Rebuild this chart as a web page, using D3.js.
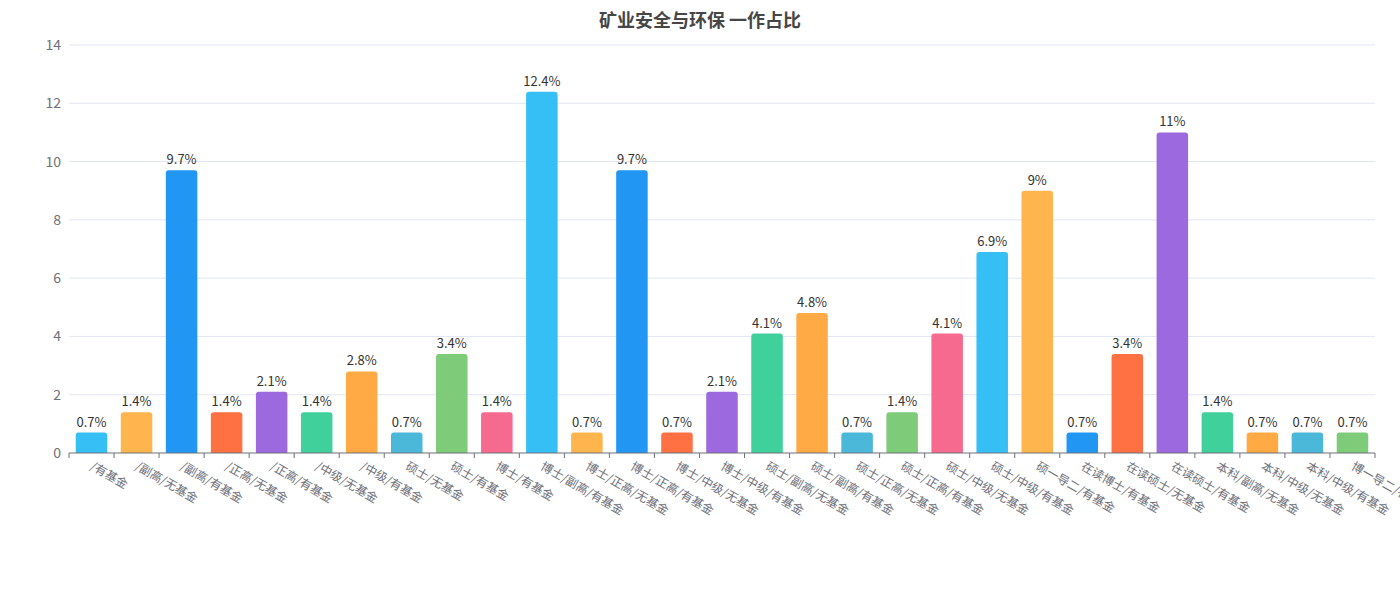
<!DOCTYPE html>
<html>
<head>
<meta charset="utf-8">
<script src="https://cdn.jsdelivr.net/npm/d3@7"></script>
<style>
  body { margin: 0; background: #fff; }
  svg text { font-family: "Noto Sans CJK SC", "Noto Sans", sans-serif; }
</style>
</head>
<body>
<div id="chart"></div>
<script>
// categories along the x axis
const categories = [
  '/有基金', '/副高/无基金', '/副高/有基金', '/正高/无基金', '/正高/有基金',
  '/中级/无基金', '/中级/有基金', '硕士/无基金', '硕士/有基金', '博士/有基金',
  '博士/副高/有基金', '博士/正高/无基金', '博士/正高/有基金', '博士/中级/无基金', '博士/中级/有基金',
  '硕士/副高/无基金', '硕士/副高/有基金', '硕士/正高/无基金', '硕士/正高/有基金', '硕士/中级/无基金',
  '硕士/中级/有基金', '硕一导二/有基金', '在读博士/有基金', '在读硕士/无基金', '在读硕士/有基金',
  '本科/副高/无基金', '本科/中级/无基金', '本科/中级/有基金', '博一导二/有基金'
];
// percentage per category
const values = [
  0.7, 1.4, 9.7, 1.4, 2.1, 1.4, 2.8, 0.7, 3.4, 1.4,
  12.4, 0.7, 9.7, 0.7, 2.1, 4.1, 4.8, 0.7, 1.4, 4.1,
  6.9, 9, 0.7, 3.4, 11, 1.4, 0.7, 0.7, 0.7
];
const yTicks = [0, 2, 4, 6, 8, 10, 12, 14];
const palette = ['#36BFF5', '#FFB54D', '#2196F3', '#FF7043', '#9C6ADE',
                 '#40D09C', '#FFAA44', '#4BB8D9', '#7ECB7A', '#F76A8F'];

const width = 1400, height = 600;
const margin = { top: 45, right: 25, bottom: 147, left: 69 };
const innerW = width - margin.left - margin.right;
const innerH = height - margin.top - margin.bottom;

const svg = d3.select('#chart')
  .append('svg')
  .attr('width', width)
  .attr('height', height);

svg.append('text')
  .attr('x', 700)
  .attr('y', 27)
  .attr('text-anchor', 'middle')
  .style('font-size', '18px')
  .style('font-weight', 'bold')
  .attr('fill', '#464646')
  .text('矿业安全与环保 一作占比');

const g = svg.append('g')
  .attr('transform', `translate(${margin.left}, ${margin.top})`);

const x = d3.scaleBand()
  .domain(categories)
  .range([0, innerW])
  .paddingInner(0.3)
  .paddingOuter(0.15);

// band boundaries for ticks
const step = innerW / categories.length;

const y = d3.scaleLinear()
  .domain([0, 14])
  .range([innerH, 0]);

// grid lines
g.selectAll('.grid')
  .data(yTicks.filter((d) => d !== 0))
  .enter()
  .append('line')
  .attr('class', 'grid')
  .attr('x1', 0)
  .attr('x2', innerW)
  .attr('y1', (d) => y(d))
  .attr('y2', (d) => y(d))
  .attr('stroke', '#E0E6F1');

// y axis labels
const yAxis = d3.axisLeft(y).tickValues(yTicks).tickSize(0).tickPadding(8);
g.append('g')
  .attr('class', 'y axis')
  .call(yAxis)
  .call((s) => s.select('.domain').remove())
  .selectAll('text')
  .attr('fill', '#6E7079')
  .style('font-size', '14px');

// bars with rounded top corners
const r = 3;
g.selectAll('.bar')
  .data(values)
  .enter()
  .append('path')
  .attr('class', 'bar')
  .attr('fill', (d, i) => palette[i % palette.length])
  .attr('d', (d, i) => {
    const x0 = x(categories[i]);
    const w = x.bandwidth();
    const y0 = y(d);
    const y1 = y(0);
    return `M${x0},${y1}V${y0 + r}Q${x0},${y0} ${x0 + r},${y0}H${x0 + w - r}Q${x0 + w},${y0} ${x0 + w},${y0 + r}V${y1}Z`;
  });

// value labels
g.selectAll('.value')
  .data(values)
  .enter()
  .append('text')
  .attr('class', 'value')
  .attr('x', (d, i) => x(categories[i]) + x.bandwidth() / 2)
  .attr('y', (d) => y(d) - 6)
  .attr('text-anchor', 'middle')
  .attr('fill', '#333')
  .style('font-size', '13px')
  .text((d) => d + '%');

// x axis
const xAxisG = g.append('g')
  .attr('class', 'x axis')
  .attr('transform', `translate(0, ${innerH})`);

xAxisG.append('line')
  .attr('x1', 0)
  .attr('x2', innerW)
  .attr('stroke', '#6E7079');

xAxisG.selectAll('.tick')
  .data(d3.range(categories.length + 1))
  .enter()
  .append('line')
  .attr('class', 'tick')
  .attr('x1', (d) => d * step)
  .attr('x2', (d) => d * step)
  .attr('y1', 0)
  .attr('y2', 5)
  .attr('stroke', '#6E7079');

xAxisG.selectAll('.label')
  .data(categories)
  .enter()
  .append('text')
  .attr('class', 'label')
  .attr('transform', (d) => `translate(${x(d) + x.bandwidth() / 2}, 12) rotate(30)`)
  .attr('dy', '0.35em')
  .attr('text-anchor', 'start')
  .attr('fill', '#6E7079')
  .style('font-size', '12px')
  .text((d) => d);
</script>
</body>
</html>
